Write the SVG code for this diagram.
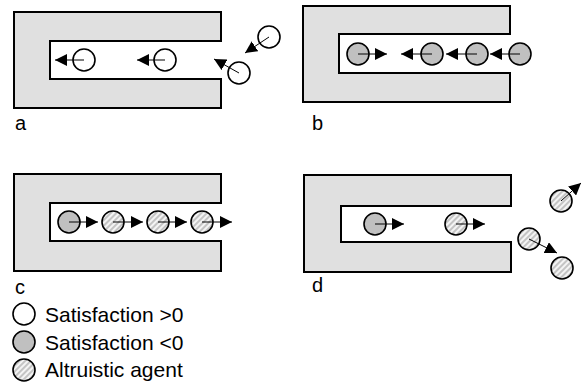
<svg xmlns="http://www.w3.org/2000/svg" width="584" height="389" viewBox="0 0 584 389">
<defs>
<pattern id="hatch" width="4" height="4" patternUnits="userSpaceOnUse" patternTransform="rotate(45)">
<rect width="4" height="4" fill="#f4f4f4"/>
<rect width="2" height="4" fill="#c4c4c4"/>
</pattern>
<marker id="ah" viewBox="0 0 12 12" refX="12" refY="6" markerWidth="12" markerHeight="12" markerUnits="userSpaceOnUse" orient="auto">
<path d="M0,0 L12,6 L0,12 Z" fill="#000"/>
</marker>
</defs>
<style>
.wall{fill:#e0e0e0;stroke:#000;stroke-width:2;stroke-linejoin:miter}
.pos{fill:#fff;stroke:#000;stroke-width:1.6}
.neg{fill:#c0c0c0;stroke:#000;stroke-width:1.6}
.alt{fill:url(#hatch);stroke:#000;stroke-width:1.6}
.arr{stroke:#000;stroke-width:1;fill:none;marker-end:url(#ah)}
.lbl{font-family:"Liberation Sans",Arial,sans-serif;font-size:20px;fill:#000}
.leg{font-family:"Liberation Sans",Arial,sans-serif;font-size:21px;fill:#000}
</style>
<g id="panel-a">
<path class="wall" d="M14,12 H221 V41 H50 V79 H221 V108 H14 Z"/>
<circle class="pos" cx="84" cy="60" r="11"/>
<circle class="pos" cx="165" cy="60" r="11"/>
<circle class="pos" cx="269" cy="37" r="11"/>
<circle class="pos" cx="239" cy="73" r="11"/>
<text class="lbl" x="15" y="130">a</text>
</g>
<g id="panel-b">
<path class="wall" d="M303,6 H510 V34 H339 V73 H510 V102 H303 Z"/>
<circle class="neg" cx="358" cy="54" r="11"/>
<circle class="neg" cx="432" cy="54" r="11"/>
<circle class="neg" cx="477" cy="54" r="11"/>
<circle class="neg" cx="520" cy="54" r="11"/>
<text class="lbl" x="312" y="130">b</text>
</g>
<g id="panel-c">
<path class="wall" d="M14,174 H221 V203 H50 V241 H221 V271 H14 Z"/>
<circle class="neg" cx="69" cy="222" r="11"/>
<circle class="alt" cx="113" cy="222" r="11"/>
<circle class="alt" cx="158" cy="222" r="11"/>
<circle class="alt" cx="202" cy="222" r="11"/>
<text class="lbl" x="15" y="294">c</text>
</g>
<g id="panel-d">
<path class="wall" d="M304,175 H511 V206 H341 V242 H511 V272 H304 Z"/>
<circle class="neg" cx="375" cy="224" r="11"/>
<circle class="alt" cx="456" cy="224" r="11"/>
<circle class="alt" cx="561" cy="201" r="11"/>
<circle class="alt" cx="529" cy="239" r="11"/>
<circle class="alt" cx="562" cy="268" r="11"/>
<text class="lbl" x="312" y="292">d</text>
</g>
<g id="connectors">
<line class="arr" x1="84" y1="60" x2="55" y2="60"/>
<line class="arr" x1="165" y1="60" x2="137" y2="60"/>
<line class="arr" x1="269" y1="37" x2="245" y2="53"/>
<line class="arr" x1="239" y1="73" x2="214" y2="59"/>
<line class="arr" x1="358" y1="54" x2="387" y2="54"/>
<line class="arr" x1="432" y1="54" x2="401" y2="54"/>
<line class="arr" x1="477" y1="54" x2="446" y2="54"/>
<line class="arr" x1="520" y1="54" x2="490" y2="54"/>
<line class="arr" x1="69" y1="222" x2="98" y2="222"/>
<line class="arr" x1="113" y1="222" x2="143" y2="222"/>
<line class="arr" x1="158" y1="222" x2="187" y2="222"/>
<line class="arr" x1="202" y1="222" x2="232" y2="222"/>
<line class="arr" x1="375" y1="224" x2="404" y2="224"/>
<line class="arr" x1="456" y1="224" x2="485" y2="224"/>
<line class="arr" x1="561" y1="201" x2="581" y2="183"/>
<line class="arr" x1="529" y1="239" x2="557" y2="253"/>
</g>
<g id="legend">
<circle class="pos" cx="24" cy="314" r="11"/>
<text class="leg" x="45" y="322">Satisfaction &gt;0</text>
<circle class="neg" cx="24" cy="342" r="11"/>
<text class="leg" x="45" y="350">Satisfaction &lt;0</text>
<circle class="alt" cx="24" cy="370" r="11"/>
<text class="leg" x="45" y="377">Altruistic agent</text>
</g>
</svg>
